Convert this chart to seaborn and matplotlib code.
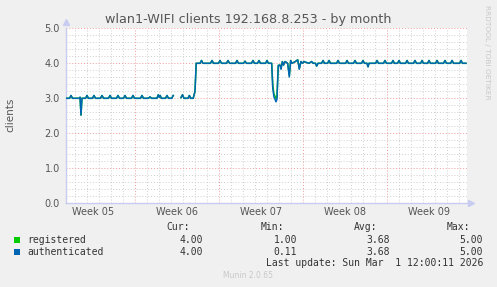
import numpy as np
import pandas as pd
import matplotlib
matplotlib.use("Agg")
import matplotlib.pyplot as plt
import seaborn as sns
from matplotlib.patches import Rectangle

# ---------------- data (time in days since Mon 26 Jan 2026) ----------------
seg_a_t = [1.25, 1.54, 1.67, 1.79, 2.35, 2.42, 2.5, 2.58, 2.88, 3.0, 3.12, 3.46, 3.58, 3.71,
           4.12, 4.25, 4.38, 4.79, 4.92, 5.04, 5.46, 5.58, 5.71, 6.04, 6.17, 6.29, 6.71, 6.83,
           6.96, 7.46, 7.58, 7.71, 8.12, 8.25, 8.38, 8.83, 8.94, 9.02, 9.1, 9.2, 9.54, 9.67,
           9.79, 10.06, 10.19]
seg_a_auth = [3.0, 3.0, 3.08, 3.0, 3.0, 3.03, 2.52, 3.0, 3.0, 3.08, 3.0, 3.0, 3.08, 3.0,
              3.0, 3.08, 3.0, 3.0, 3.08, 3.0, 3.0, 3.08, 3.0, 3.0, 3.08, 3.0, 3.0, 3.08,
              3.0, 3.0, 3.08, 3.0, 3.0, 3.04, 3.0, 3.0, 3.1, 3.03, 3.08, 3.0, 3.0, 3.08,
              3.0, 3.0, 3.08]
seg_a_reg = list(seg_a_auth)

seg_b_t = [10.83, 10.96, 11.08, 11.42, 11.53, 11.65, 11.85, 12.0, 12.1,
           12.42, 12.54, 12.67, 13.29, 13.42, 13.54, 13.96, 14.08, 14.21, 14.62, 14.75, 14.88,
           15.38, 15.5, 15.62, 16.04, 16.17, 16.29, 16.71, 16.83, 16.96, 17.21, 17.33, 17.46,
           17.88, 18.0, 18.12, 18.39, 18.48, 18.58, 18.67, 18.75, 18.83, 18.94, 19.08, 19.17,
           19.28, 19.38, 19.5, 19.72, 19.86, 19.97, 20.08, 20.36, 20.56, 20.69, 20.83, 20.96,
           21.08, 21.31, 21.5, 21.72, 21.85, 22.04, 22.14, 22.25, 22.55, 22.67, 22.79, 23.05,
           23.17, 23.29, 23.8, 23.92, 24.04, 24.55, 24.67, 24.79, 25.21, 25.33, 25.46, 25.88,
           26.0, 26.12, 26.33, 26.42, 26.5, 27.05, 27.17, 27.29, 27.71, 27.83, 27.96, 28.38,
           28.5, 28.62, 28.88, 29.0, 29.12, 29.55, 29.67, 29.79, 30.21, 30.33, 30.46, 30.8,
           30.92, 31.04, 31.38, 31.5, 31.62, 32.05, 32.17, 32.29, 32.71, 32.83, 32.96, 33.3,
           33.42, 33.55, 34.05, 34.17, 34.29, 34.58]
seg_b_auth = [3.02, 3.1, 3.0, 3.0, 3.08, 3.0, 3.0, 3.2, 4.0,
              4.0, 4.08, 4.0, 4.0, 4.08, 4.0, 4.0, 4.08, 4.0, 4.0, 4.08, 4.0,
              4.0, 4.08, 4.0, 4.0, 4.06, 4.0, 4.0, 4.08, 4.0, 4.0, 4.08, 4.0,
              4.0, 4.08, 4.0, 4.0, 3.28, 3.04, 2.97, 2.9, 2.97, 3.94, 3.95, 3.83,
              4.05, 3.95, 4.05, 4.0, 3.61, 4.08, 4.0, 4.05, 4.1, 3.83, 4.05, 4.0,
              4.05, 4.02, 4.0, 4.05, 4.0, 4.0, 3.92, 4.0, 4.0, 4.08, 4.0, 4.0,
              4.08, 4.0, 4.0, 4.08, 4.0, 4.0, 4.08, 4.0, 4.0, 4.08, 4.0, 4.0,
              4.08, 4.0, 4.0, 3.9, 4.0, 4.0, 4.08, 4.0, 4.0, 4.08, 4.0, 4.0,
              4.08, 4.0, 4.0, 4.08, 4.0, 4.0, 4.08, 4.0, 4.0, 4.08, 4.0, 4.0,
              4.08, 4.0, 4.0, 4.08, 4.0, 4.0, 4.08, 4.0, 4.0, 4.08, 4.0, 4.0,
              4.08, 4.0, 4.0, 4.08, 4.0, 4.0]
seg_b_reg = [3.02, 3.1, 3.0, 3.0, 3.08, 3.0, 3.0, 3.2, 4.0,
             4.0, 4.08, 4.0, 4.0, 4.08, 4.0, 4.0, 4.08, 4.0, 4.0, 4.08, 4.0,
             4.0, 4.08, 4.0, 4.0, 4.06, 4.0, 4.0, 4.08, 4.0, 4.0, 4.08, 4.0,
             4.0, 4.08, 4.0, 4.0, 3.4, 3.12, 3.06, 3.0, 3.05, 3.94, 3.95, 3.85,
             4.05, 3.95, 4.05, 4.0, 3.65, 4.08, 4.0, 4.05, 4.1, 3.85, 4.05, 4.0,
             4.05, 4.02, 4.0, 4.05, 4.0, 4.0, 3.92, 4.0, 4.0, 4.08, 4.0, 4.0,
             4.08, 4.0, 4.0, 4.08, 4.0, 4.0, 4.08, 4.0, 4.0, 4.08, 4.0, 4.0,
             4.08, 4.0, 4.0, 3.9, 4.0, 4.0, 4.08, 4.0, 4.0, 4.08, 4.0, 4.0,
             4.08, 4.0, 4.0, 4.08, 4.0, 4.0, 4.08, 4.0, 4.0, 4.08, 4.0, 4.0,
             4.08, 4.0, 4.0, 4.08, 4.0, 4.0, 4.08, 4.0, 4.0, 4.08, 4.0, 4.0,
             4.08, 4.0, 4.0, 4.08, 4.0, 4.0]

week_labels = ["Week 05", "Week 06", "Week 07", "Week 08", "Week 09"]
week_centers = [3.5, 10.5, 17.5, 24.5, 31.5]
week_bounds = [7, 14, 21, 28]
y_ticks = [0.0, 1.0, 2.0, 3.0, 4.0, 5.0]

series_names = ["registered", "authenticated"]
series_colors = ["#00CC00", "#0066B3"]
stat_cur = ["4.00", "4.00"]
stat_min = ["1.00", "0.11"]
stat_avg = ["3.68", "3.68"]
stat_max = ["5.00", "5.00"]

title = "wlan1-WIFI clients 192.168.8.253 - by month"
last_update = "Last update: Sun Mar  1 12:00:11 2026"

# ---------------- build table ----------------
rows = []
for seg_id, (t, reg, auth) in enumerate([(seg_a_t, seg_a_reg, seg_a_auth),
                                         (seg_b_t, seg_b_reg, seg_b_auth)]):
    for ti, r, a in zip(t, reg, auth):
        rows.append({"t": ti, "value": r, "series": "registered", "seg": seg_id})
        rows.append({"t": ti, "value": a, "series": "authenticated", "seg": seg_id})
df = pd.DataFrame(rows)

# ---------------- figure ----------------
W, H = 497, 287
fig = plt.figure(figsize=(W / 100, H / 100), dpi=100, facecolor="#F0F0F0")

def fx(px):
    return px / W

def fy(py):
    return 1 - py / H

ax_left, ax_right, ax_top, ax_bot = 66, 467, 28.3, 203.3
ax = fig.add_axes([fx(ax_left), fy(ax_bot), (ax_right - ax_left) / W, (ax_bot - ax_top) / H])
ax.set_facecolor("white")

x0 = (ax_left - 51) / 12.0
x1 = (ax_right - 51) / 12.0
ax.set_xlim(x0, x1)
ax.set_ylim(0, 5.0)

# grid
minor_col = "#CFCFCF"
major_col = "#F09A9A"
dot = (0, (1, 2))
for d in range(2, 35):
    if d not in week_bounds:
        ax.axvline(d, color=minor_col, lw=0.7, ls=dot, zorder=0)
for d in week_bounds:
    ax.axvline(d, color=major_col, lw=0.7, ls=dot, zorder=0.5)
for k in range(1, 25):
    yv = k * 0.2
    if abs(yv - round(yv)) > 1e-6:
        ax.axhline(yv, color=minor_col, lw=0.7, ls=dot, zorder=0)
for yv in [1, 2, 3, 4, 5]:
    ax.axhline(yv, color=major_col, lw=0.7, ls=dot, zorder=0.5)

# lines
for name, col in zip(series_names, series_colors):
    sub = df[df["series"] == name]
    sns.lineplot(data=sub, x="t", y="value", units="seg", estimator=None,
                 color=col, lw=1.1, ax=ax, sort=False, legend=False, zorder=3)

# axes styling
axis_col = "#C8CCF0"
for s in ["top", "right"]:
    ax.spines[s].set_visible(False)
for s in ["left", "bottom"]:
    ax.spines[s].set_color(axis_col)
    ax.spines[s].set_linewidth(1.0)
ax.plot([0], [1.035], marker="^", color=axis_col, ms=4, transform=ax.transAxes, clip_on=False)
ax.plot([1.01], [0], marker=">", color=axis_col, ms=4, transform=ax.transAxes, clip_on=False)

ax.set_xticks(week_centers)
ax.set_xticklabels(week_labels)
ax.set_yticks(y_ticks)
ax.set_yticklabels([f"{v:.1f}" for v in y_ticks])
ax.tick_params(axis="both", length=0, labelsize=7, labelcolor="#555555")
ax.tick_params(axis="y", pad=4.5)
ax.tick_params(axis="x", pad=3)
ax.set_xlabel("")
ax.set_ylabel("")

# texts
fig.text(fx(248.5), fy(19), title, ha="center", va="center", fontsize=9.2, color="#555555")
fig.text(fx(10), fy(115), "clients", rotation=90, ha="center", va="center",
         fontsize=7.5, color="#555555")
fig.text(fx(487), fy(5), "RRDTOOL / TOBI OETIKER", rotation=270, ha="center", va="top",
         fontsize=5.3, color="#C8C8C8")

mono = "DejaVu Sans Mono"
fs = 7
tc = "#333333"
fig.text(fx(190), fy(227), "Cur:", ha="right", va="center", family=mono, fontsize=fs, color=tc)
fig.text(fx(284), fy(227), "Min:", ha="right", va="center", family=mono, fontsize=fs, color=tc)
fig.text(fx(377), fy(227), "Avg:", ha="right", va="center", family=mono, fontsize=fs, color=tc)
fig.text(fx(470), fy(227), "Max:", ha="right", va="center", family=mono, fontsize=fs, color=tc)
row_y = [240, 252]
for i, name in enumerate(series_names):
    yy = row_y[i]
    fig.patches.append(Rectangle((fx(14), fy(yy + 3)), 6 / W, 6 / H, transform=fig.transFigure,
                                 facecolor=series_colors[i], edgecolor="none"))
    fig.text(fx(27), fy(yy), name, ha="left", va="center", family=mono, fontsize=fs, color=tc)
    fig.text(fx(203), fy(yy), stat_cur[i], ha="right", va="center", family=mono, fontsize=fs, color=tc)
    fig.text(fx(297), fy(yy), stat_min[i], ha="right", va="center", family=mono, fontsize=fs, color=tc)
    fig.text(fx(390), fy(yy), stat_avg[i], ha="right", va="center", family=mono, fontsize=fs, color=tc)
    fig.text(fx(483), fy(yy), stat_max[i], ha="right", va="center", family=mono, fontsize=fs, color=tc)
fig.text(fx(483), fy(263), last_update, ha="right", va="center", family=mono, fontsize=fs, color=tc)
fig.text(fx(248), fy(276), "Munin 2.0.65", ha="center", va="center", fontsize=5.5, color="#C8C8C8")

fig.savefig("out.png", dpi=100, facecolor=fig.get_facecolor())
